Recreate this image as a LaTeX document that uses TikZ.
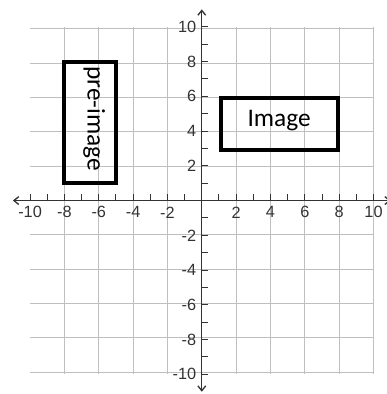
\documentclass[tikz,border=0pt]{standalone}
\usepackage{fontspec}
\setmainfont{Liberation Sans}
\newfontfamily\calibri{Carlito}
\usetikzlibrary{arrows.meta}

\begin{document}
\begin{tikzpicture}[
  x=0.5cm, y=0.506cm,
  font=\fontsize{13.5}{16}\selectfont,
  gridline/.style={black!25, line width=0.85pt},
  axis/.style={{Straight Barb[length=4pt,width=6.5pt]}-{Straight Barb[length=4pt,width=6.5pt]}, black!80, line width=1.1pt},
  tickmark/.style={black!80, line width=0.8pt},
  ticklabel/.style={text=black!80, inner sep=0pt},
  figbox/.style={draw, line width=3.3pt},
  figtext/.style={font=\calibri\fontsize{21}{25}\selectfont, inner sep=0pt}
]
  \useasboundingbox (-11.75,-11.13) rectangle (10.78,11.54);
  \draw[gridline] (-10,-10) grid (10,10);
  % axes
  \coordinate (xl) at (-11,0);
  \coordinate (xr) at (11,0);
  \coordinate (yb) at (0,-11);
  \coordinate (yt) at (0,11);
  \draw[axis] (xl) -- (xr);
  \draw[axis] (yb) -- (yt);
  \foreach \i in {-10,...,10} {
    \draw[tickmark] (\i,0) -- ++(0,0.35);
    \draw[tickmark] (0,\i) -- ++(0.35,0);
  }
  \foreach \i in {-10,-8,...,-2,2,4,...,10} {
    \node[ticklabel] (x\i) at (\i,-0.68) {\i};
    \node[ticklabel, anchor=east] (y\i) at (-0.31,\i) {\i};
  }
  % rectangles
  \draw[figbox] (-8,1) rectangle (-5,8);
  \node[figtext, rotate=-90] (pre) at (-6.26,4.7) {pre-image};
  \draw[figbox] (1.1,2.9) rectangle (7.95,5.9);
  \node[figtext] (img) at (4.5,4.6) {Image};
\end{tikzpicture}
\end{document}
